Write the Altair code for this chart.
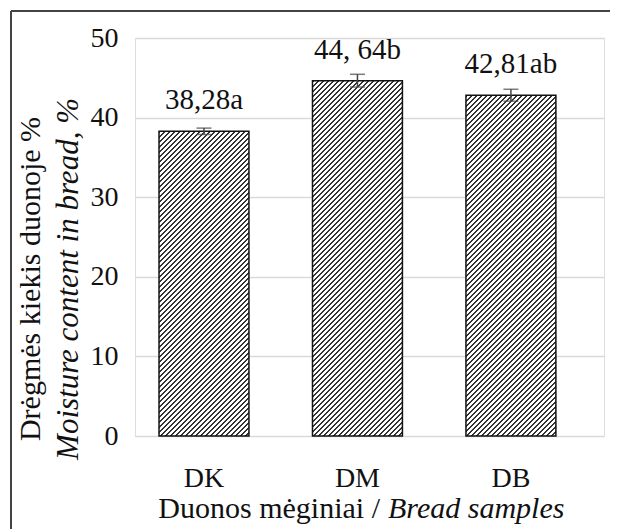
import altair as alt
import pandas as pd

samples = ["DK", "DM", "DB"]
moisture = [38.28, 44.64, 42.81]
errors = [0.4, 0.8, 0.75]
labels = ["38,28a", "44, 64b", "42,81ab"]
y_ticks = [0, 10, 20, 30, 40, 50]

y_title_lt = "Drėgmės kiekis duonoje %"
y_title_en = "Moisture content in bread, %"
x_title_lt = "Duonos mėginiai /"
x_title_en = "Bread samples"

W, H = 469, 398
P_IN, P_OUT, ALIGN = 0.414, 0.235, 0.333
FONT = "Liberation Serif"
FS = 29
FS_TICK = 28
FS_T = 30
YMAX = 50

df = pd.DataFrame({"sample": samples, "value": moisture, "err": errors, "label": labels})
df["lo"] = df["value"] - df["err"]
df["hi"] = df["value"] + df["err"]

xs = alt.X("sample:N", sort=samples,
           scale=alt.Scale(paddingInner=P_IN, paddingOuter=P_OUT, align=ALIGN),
           axis=alt.Axis(title=None, labelAngle=0, labelFont=FONT, labelFontSize=FS_TICK,
                         labelColor="#111", labelPadding=50, labelBaseline="alphabetic",
                         ticks=False, tickSize=0, domain=False, grid=False))
ys = alt.Y("value:Q", scale=alt.Scale(domain=[0, YMAX], nice=False, zero=True),
           axis=alt.Axis(title=None, values=y_ticks, labelFont=FONT, labelFontSize=FS_TICK,
                         labelColor="#111", labelPadding=17, ticks=False, tickSize=0,
                         domain=False, grid=True, gridColor="#d9d9d9", gridWidth=1.5))

step = W / (len(samples) - P_IN + 2 * P_OUT)
bw = step * (1 - P_IN)


def hatch(w, h, period=5.0, dark=0.45):
    a = (w + h) * w / (w * w + h * h)
    n = (w + h) / period
    stops = []
    k = 0
    while k < n:
        o0 = k / n
        o1 = min((k + dark) / n, 1.0)
        o2 = min((k + 1) / n, 1.0)
        stops += [{"offset": o0, "color": "#333333"}, {"offset": o1, "color": "#333333"},
                  {"offset": o1, "color": "#ffffff"}, {"offset": o2, "color": "#ffffff"}]
        k += 1
    return alt.LinearGradient(gradient="linear", x1=0, y1=0, x2=a, y2=a * h / w, stops=stops)


base = alt.Chart(df)
bars = []
for s, v in zip(samples, moisture):
    bh = v / YMAX * H
    bars.append(
        base.transform_filter(alt.datum.sample == s)
        .mark_bar(fill=hatch(bw, bh), stroke="#111", strokeWidth=1.5)
        .encode(x=xs, y=ys)
    )

err_rule = base.mark_rule(color="#444", strokeWidth=1.5).encode(
    x=alt.X("sample:N", sort=samples), y="lo:Q", y2="hi:Q")
cap_hi = base.mark_tick(color="#444", thickness=1.5, size=15, orient="horizontal").encode(
    x=alt.X("sample:N", sort=samples), y="hi:Q")
cap_lo = base.mark_tick(color="#444", thickness=1.5, size=15, orient="horizontal").encode(
    x=alt.X("sample:N", sort=samples), y="lo:Q")

txt = base.mark_text(font=FONT, fontSize=FS, color="#111", dy=-22, baseline="alphabetic").encode(
    x=alt.X("sample:N", sort=samples), y="value:Q", text="label:N")

one = pd.DataFrame({"a": [0]})
ytl = alt.Chart(one).mark_text(font=FONT, fontSize=FS_T, color="#111", angle=270,
                               baseline="alphabetic", align="center").encode(
    x=alt.value(-95), y=alt.value(241), text=alt.value(y_title_lt))
yte = alt.Chart(one).mark_text(font=FONT, fontSize=FS_T + 1, color="#111", angle=270, fontStyle="italic",
                               baseline="alphabetic", align="center").encode(
    x=alt.value(-57), y=alt.value(241), text=alt.value(y_title_en))
xtl = alt.Chart(one).mark_text(font=FONT, fontSize=FS_T, color="#111",
                               baseline="alphabetic", align="right").encode(
    x=alt.value(245), y=alt.value(480), text=alt.value(x_title_lt))
xte = alt.Chart(one).mark_text(font=FONT, fontSize=FS_T, color="#111", fontStyle="italic",
                               baseline="alphabetic", align="left").encode(
    x=alt.value(253), y=alt.value(480), text=alt.value(x_title_en))

border_top = alt.Chart(one).mark_rule(color="#444", strokeWidth=2).encode(
    x=alt.value(-124), x2=alt.value(490), y=alt.value(-27))
border_left = alt.Chart(one).mark_rule(color="#444", strokeWidth=2).encode(
    x=alt.value(-124), y=alt.value(-27), y2=alt.value(500))

chart = alt.layer(border_top, border_left, *bars, err_rule, cap_hi, cap_lo, txt,
                  ytl, yte, xtl, xte).properties(
    width=W, height=H,
    autosize=alt.AutoSizeParams(type="none"),
    padding={"left": 127, "top": 30, "right": 6, "bottom": 93},
).configure_view(stroke=None).configure(background="white")

chart.save("out.html", embed_options={"renderer": "svg", "actions": False})
